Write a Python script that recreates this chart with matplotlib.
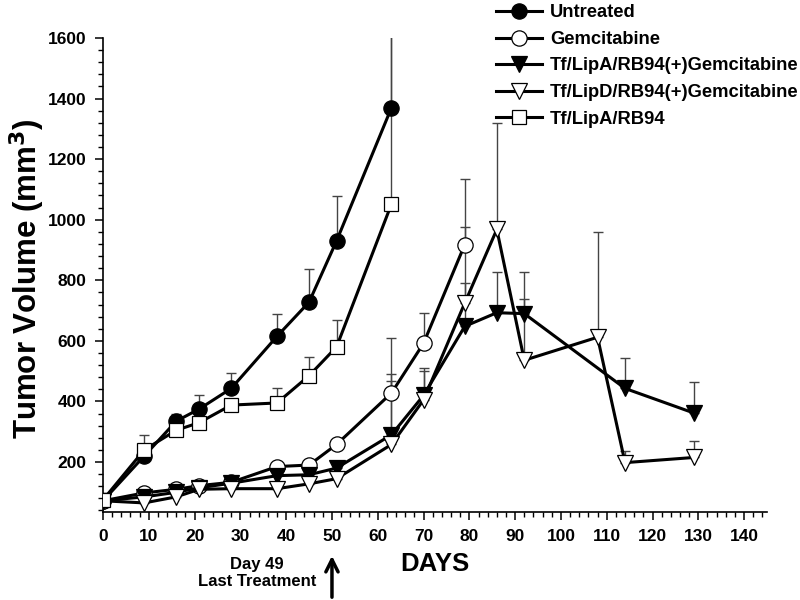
import matplotlib
matplotlib.use("Agg")
import matplotlib.pyplot as plt
import matplotlib.transforms as mtransforms
from matplotlib.ticker import MultipleLocator
import numpy as np

plt.rcParams['font.family'] = ['Liberation Sans', 'DejaVu Sans']
plt.rcParams['font.weight'] = 'bold'

# ---- data ----
days_short = [0, 9, 16, 21, 28, 38, 45, 51, 63]
untreated = [72, 220, 335, 375, 443, 615, 728, 930, 1370]
untreated_err = [0, 20, 25, 45, 52, 73, 110, 148, 400]

lipa_rb94 = [75, 240, 305, 330, 388, 395, 485, 580, 1052]
lipa_rb94_err = [0, 48, 15, 15, 12, 51, 62, 88, 600]

days_gem = [0, 9, 16, 21, 28, 38, 45, 51, 63, 70, 79]
gemcitabine = [72, 98, 110, 122, 133, 185, 190, 258, 428, 592, 918]
gemcitabine_err = [0, 8, 8, 10, 10, 12, 12, 15, 180, 100, 215]

days_lipa_gem = [0, 9, 16, 21, 28, 38, 45, 51, 63, 70, 79, 86, 92, 114, 129]
lipa_gem = [72, 85, 100, 115, 130, 155, 158, 180, 290, 420, 648, 693, 690, 443, 362]
lipa_gem_err = [0, 8, 8, 8, 8, 10, 12, 25, 202, 92, 142, 133, 136, 102, 101]

days_lipd_gem = [0, 9, 16, 21, 28, 38, 45, 51, 63, 70, 79, 86, 92, 108, 114, 129]
lipd_gem = [72, 65, 85, 110, 112, 112, 128, 145, 258, 405, 725, 968, 536, 612, 198, 215]
lipd_gem_err = [0, 5, 5, 5, 5, 5, 8, 10, 211, 97, 250, 351, 201, 347, 40, 56]

labels = ["Untreated", "Gemcitabine", "Tf/LipA/RB94(+)Gemcitabine",
          "Tf/LipD/RB94(+)Gemcitabine", "Tf/LipA/RB94"]
x_ticks = list(range(0, 141, 10))
y_ticks = list(range(200, 1601, 200))

fig = plt.figure(figsize=(8, 6), dpi=100)
ax = fig.add_axes([103/800, 1-512/600, (767-103)/800, (512-38)/600])

series = [
    (days_short, untreated, untreated_err, 'o', 'black', 11),
    (days_gem, gemcitabine, gemcitabine_err, 'o', 'white', 11),
    (days_lipa_gem, lipa_gem, lipa_gem_err, 'v', 'black', 12),
    (days_lipd_gem, lipd_gem, lipd_gem_err, 'v', 'white', 12),
    (days_short, lipa_rb94, lipa_rb94_err, 's', 'white', 10),
]

handles = []
for (d, v, e, m, fc, ms), lab in zip(series, labels):
    e = np.array(e)
    ax.errorbar(d, v, yerr=[np.zeros_like(e), e], fmt='none', ecolor='#444444',
                elinewidth=1.0, capsize=3.5, capthick=1.0, zorder=2)
    h, = ax.plot(d, v, color='black', lw=2.2, marker=m, markersize=ms,
                 markerfacecolor=fc, markeredgecolor='black', markeredgewidth=0.9,
                 zorder=3, label=lab)
    handles.append(h)

ax.set_xlim(0, 145)
ax.set_ylim(35, 1600)
ax.set_xticks(x_ticks)
ax.set_yticks(y_ticks)
ax.xaxis.set_minor_locator(MultipleLocator(2))
ax.yaxis.set_minor_locator(MultipleLocator(40))
ax.spines['top'].set_visible(False)
ax.spines['right'].set_visible(False)
for s in ['left', 'bottom']:
    ax.spines[s].set_linewidth(1.2)
ax.tick_params(which='major', direction='out', length=6, width=1.1, labelsize=12.5, pad=6)
ax.tick_params(which='minor', direction='out', length=3.5, width=1.0)
for lbl in ax.get_xticklabels() + ax.get_yticklabels():
    lbl.set_fontweight('bold')

leg = fig.legend(handles=handles, loc='upper left', bbox_to_anchor=(483/800, 1.014),
                 frameon=False, fontsize=13.2, handlelength=2.5, handletextpad=0.45,
                 labelspacing=0.52, borderpad=0.2)
for t in leg.get_texts():
    t.set_fontweight('bold')

fig.text(27/800, 1-279/600, 'Tumor Volume (mm$^\\mathbf{3}$)', rotation=90,
         ha='center', va='center', fontsize=22.5, fontweight='bold')
fig.text(435/800, 1-564/600, 'DAYS', ha='center', va='center', fontsize=18.5, fontweight='bold')
fig.text(257/800, 1-573/600, 'Day 49\nLast Treatment', ha='center', va='center',
         fontsize=12, fontweight='bold', linespacing=1.15)

trans = mtransforms.blended_transform_factory(ax.transData, fig.transFigure)
ax.annotate('', xy=(50, 1-553/600), xytext=(50, 0.0), xycoords=trans, textcoords=trans,
            arrowprops=dict(arrowstyle='->', lw=2.5, mutation_scale=22, color='black'),
            annotation_clip=False)

fig.savefig('out.png', dpi=100)
